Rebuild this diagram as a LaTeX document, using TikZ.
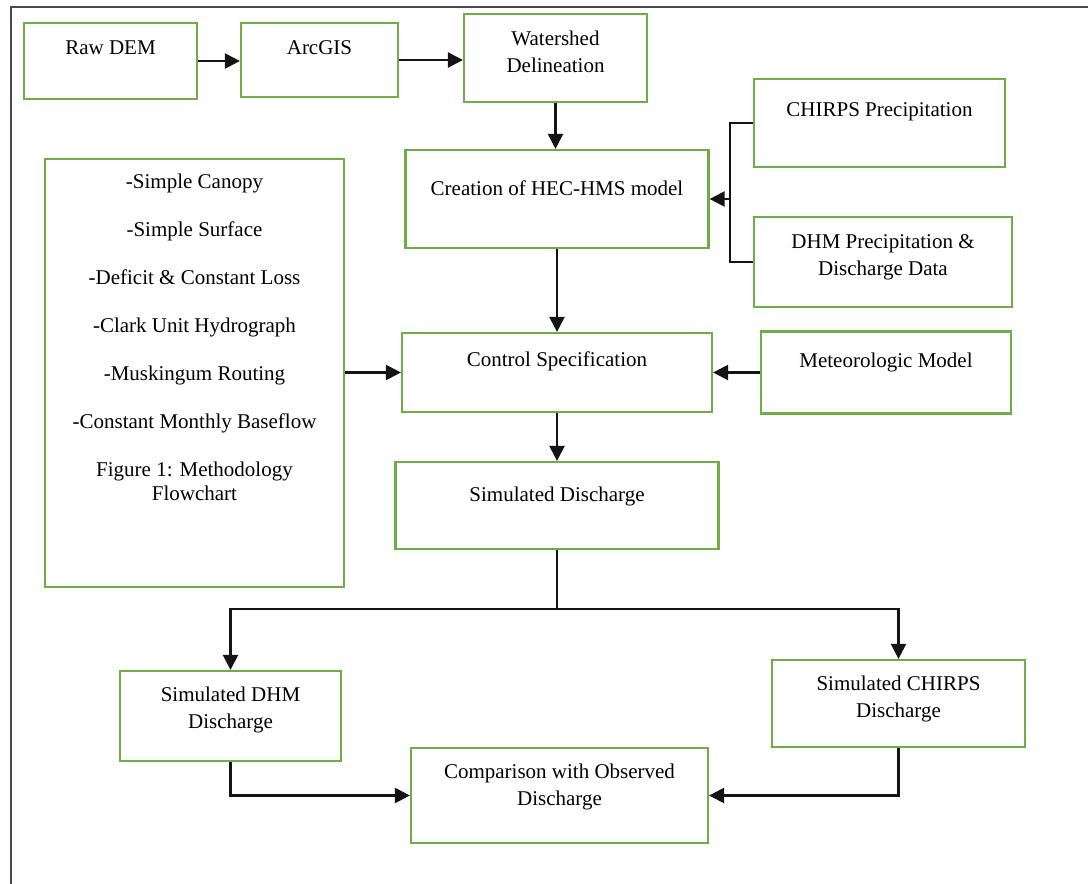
\documentclass[tikz,border=0pt]{standalone}
\usepackage{fontspec}
\setmainfont{Liberation Serif}
\usetikzlibrary{arrows.meta}

\definecolor{verde}{HTML}{70AD47}
\definecolor{linea}{HTML}{141414}
\definecolor{marco}{HTML}{4A4A4A}

\tikzset{
  box/.style={draw=verde, line width=2.2pt, inner sep=0pt},
  lbl/.style={anchor=north, align=center, inner sep=0pt, font=\fontsize{21}{27}\selectfont},
  link/.style={draw=linea, line width=2.3pt},
  flow/.style={link, -{Triangle[length=15pt,width=15pt]}},
}

\begin{document}
\begin{tikzpicture}[x=1pt,y=-1pt]
\useasboundingbox (0,0) rectangle (1088,884);

% Marco de la pagina
\draw[marco, line width=1.8pt] (11,884) -- (11,7) -- (1088,7);

% Fila de arriba
\node[box, minimum width=173pt, minimum height=76pt, label={[lbl, yshift=-19pt]north:Raw DEM}] (rawdem) at (110.5,61) {};
\node[box, minimum width=157pt, minimum height=74pt, label={[lbl, yshift=-18pt]north:ArcGIS}] (arcgis) at (319.5,60) {};
\node[box, minimum width=183pt, minimum height=88pt, label={[lbl, yshift=-18pt]north:Watershed\\Delineation}] (watershed) at (555.5,58) {};

% Modelo y datos de entrada
\node[box, minimum width=303pt, minimum height=98pt, label={[lbl, yshift=-32pt]north:Creation of HEC-HMS model}] (creation) at (557,199) {};
\node[box, minimum width=251pt, minimum height=88pt, label={[lbl, yshift=-24pt]north:CHIRPS Precipitation}] (chirps) at (879.5,123) {};
\node[box, minimum width=258pt, minimum height=90pt, label={[lbl, yshift=-18pt]north:DHM Precipitation \&\\Discharge Data}] (dhmprec) at (883,262) {};

% Parametros del modelo
\node[box, minimum width=299pt, minimum height=428pt,
  label={[lbl, yshift=-16pt, font=\fontsize{21}{24}\selectfont]north:-Simple Canopy\\[24pt]-Simple Surface\\[24pt]-Deficit \& Constant Loss\\[24pt]-Clark Unit Hydrograph\\[24pt]-Muskingum Routing\\[24pt]-Constant Monthly Baseflow\\[24pt]Figure 1: Methodology\\Flowchart}] (params) at (194.5,373) {};

\node[box, minimum width=310pt, minimum height=79pt, label={[lbl, yshift=-20pt]north:Control Specification}] (control) at (557,372.5) {};
\node[box, minimum width=250pt, minimum height=82pt, label={[lbl, yshift=-22pt]north:Meteorologic Model}] (meteo) at (886,372.5) {};
\node[box, minimum width=323pt, minimum height=87pt, label={[lbl, yshift=-26pt]north:Simulated Discharge}] (simdis) at (557,505.5) {};

% Resultados
\node[box, minimum width=221pt, minimum height=90pt, label={[lbl, yshift=-17pt]north:Simulated DHM\\Discharge}] (simdhm) at (230.5,716) {};
\node[box, minimum width=253pt, minimum height=87pt, label={[lbl, yshift=-17pt]north:Simulated CHIRPS\\Discharge}] (simchirps) at (898.5,703.5) {};
\node[box, minimum width=297pt, minimum height=95pt, label={[lbl, yshift=-17pt]north:Comparison with Observed\\Discharge}] (compare) at (559.5,795.5) {};

% Flechas
\draw[flow] (rawdem.east) -- (rawdem.east -| arcgis.west);
\draw[flow] (arcgis.east) -- (arcgis.east -| watershed.west);
\draw[flow] (watershed.south) -- (watershed.south |- creation.north);

\coordinate (join) at (730,199);
\draw[link] (chirps.west) -| (join) |- (dhmprec.west);
\draw[flow] (join) -- (creation.east);

\draw[flow] (creation) -- (control);
\draw[flow] (params.east |- control.west) -- (control.west);
\draw[flow] (meteo) -- (control);
\draw[flow] (control) -- (simdis);

\coordinate (split) at (557,609);
\draw[link] (simdis.south) -- (split);
\draw[flow] (split) -| (simdhm.north);
\draw[flow] (split) -| (simchirps.north);

\draw[flow] (simdhm.south) |- (compare.west);
\draw[flow] (simchirps.south) |- (compare.east);
\end{tikzpicture}
\end{document}
